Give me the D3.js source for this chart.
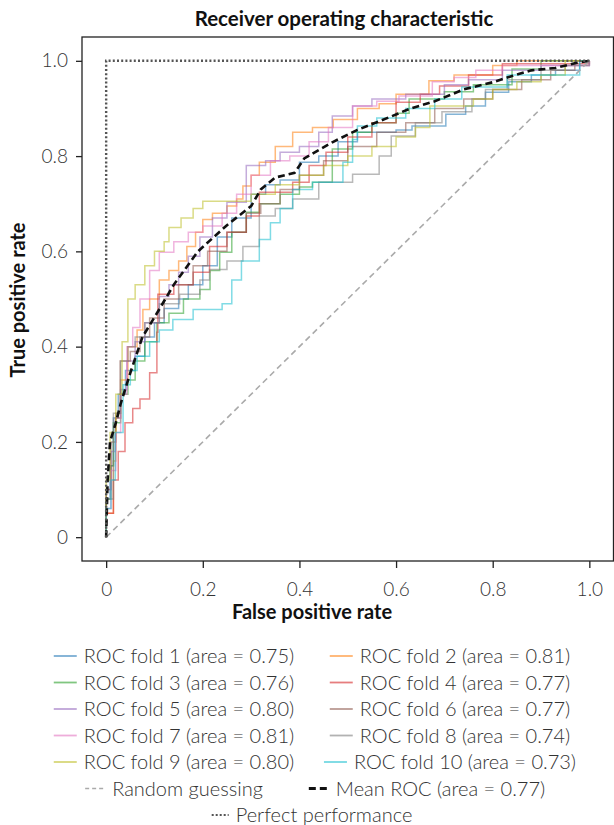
<!DOCTYPE html>
<html><head><meta charset="utf-8">
<script src="https://cdn.jsdelivr.net/npm/d3@7"></script>
<style>body{margin:0;background:#fff;} svg{display:block;}</style>
</head><body>
<svg id="c" width="614" height="825"></svg>
<script>
// ---- data ----
const foldNames = ["ROC fold 1","ROC fold 2","ROC fold 3","ROC fold 4","ROC fold 5","ROC fold 6","ROC fold 7","ROC fold 8","ROC fold 9","ROC fold 10"];
const foldAUC = [0.75,0.81,0.76,0.77,0.80,0.77,0.81,0.74,0.80,0.73];
const foldColors = ["#1f77b4","#ff7f0e","#2ca02c","#d62728","#9467bd","#8c564b","#e377c2","#7f7f7f","#bcbd22","#17becf"];

const fold1F = [0,0,0.008,0.015,0.025,0.04,0.06,0.08,0.1,0.12,0.15,0.17,0.2,0.23,0.26,0.3,0.33,0.36,0.4,0.44,0.48,0.52,0.6,0.633,0.703,0.744,0.785,0.833,0.88,0.93,0.98,1.0];
const fold1T = [0,0.08,0.15,0.25,0.3,0.35,0.38,0.42,0.45,0.48,0.5,0.53,0.57,0.63,0.67,0.72,0.74,0.75,0.787,0.8,0.83,0.85,0.855,0.863,0.888,0.905,0.934,0.956,0.97,0.98,1.0,1.0];
const fold2F = [0,0,0.015,0.02,0.03,0.045,0.064,0.076,0.09,0.11,0.13,0.15,0.167,0.185,0.2,0.22,0.25,0.27,0.283,0.3,0.317,0.35,0.386,0.427,0.47,0.52,0.565,0.6,0.668,0.72,0.8,0.85,1.0];
const fold2T = [0,0.05,0.16,0.25,0.33,0.4,0.435,0.478,0.5,0.54,0.56,0.58,0.61,0.64,0.667,0.68,0.695,0.71,0.737,0.76,0.787,0.82,0.85,0.86,0.877,0.9,0.91,0.93,0.958,0.97,0.99,1.0,1.0];
const fold3F = [0,0,0.01,0.015,0.03,0.045,0.06,0.08,0.105,0.13,0.16,0.194,0.215,0.235,0.26,0.29,0.317,0.36,0.4,0.427,0.468,0.51,0.55,0.6,0.627,0.7,0.76,0.84,0.9,1.0];
const fold3T = [0,0.08,0.15,0.24,0.3,0.33,0.37,0.41,0.45,0.47,0.5,0.52,0.56,0.598,0.64,0.682,0.7,0.72,0.735,0.745,0.815,0.85,0.87,0.89,0.92,0.935,0.95,0.983,1.0,1.0];
const fold4F = [0,0,0.015,0.025,0.039,0.055,0.07,0.09,0.105,0.107,0.14,0.18,0.214,0.25,0.29,0.317,0.386,0.42,0.455,0.5,0.55,0.6,0.65,0.69,0.75,0.82,1.0];
const fold4T = [0,0.05,0.12,0.18,0.24,0.27,0.29,0.345,0.43,0.51,0.53,0.556,0.61,0.64,0.674,0.724,0.745,0.78,0.808,0.84,0.87,0.913,0.93,0.947,0.97,0.994,1.0];
const fold5F = [0,0,0.01,0.019,0.03,0.043,0.06,0.08,0.11,0.13,0.15,0.17,0.194,0.22,0.25,0.29,0.33,0.36,0.4,0.44,0.468,0.51,0.55,0.62,0.7,0.75,0.82,0.9,1.0];
const fold5T = [0,0.1,0.18,0.25,0.31,0.37,0.41,0.45,0.505,0.53,0.556,0.59,0.63,0.67,0.703,0.78,0.79,0.808,0.82,0.85,0.884,0.905,0.92,0.93,0.95,0.96,0.98,0.99,1.0];
const fold6F = [0,0,0.01,0.02,0.029,0.05,0.07,0.09,0.12,0.15,0.18,0.21,0.25,0.29,0.32,0.36,0.4,0.45,0.5,0.56,0.62,0.68,0.74,0.8,0.86,0.92,0.97,1.0];
const fold6T = [0,0.1,0.2,0.26,0.37,0.39,0.42,0.46,0.5,0.53,0.57,0.6,0.64,0.68,0.7,0.73,0.76,0.79,0.82,0.85,0.87,0.9,0.92,0.94,0.96,0.98,1.0,1.0];
const fold7F = [0,0,0.01,0.02,0.03,0.043,0.055,0.07,0.09,0.11,0.14,0.17,0.2,0.24,0.27,0.3,0.34,0.38,0.42,0.46,0.51,0.56,0.606,0.675,0.72,0.765,0.82,1.0];
const fold7T = [0,0.06,0.14,0.22,0.3,0.4,0.44,0.5,0.56,0.598,0.62,0.64,0.653,0.68,0.72,0.76,0.79,0.8,0.83,0.86,0.905,0.915,0.926,0.956,0.965,0.98,0.99,1.0];
const fold8F = [0,0,0.015,0.03,0.045,0.06,0.08,0.11,0.152,0.194,0.214,0.25,0.283,0.317,0.35,0.386,0.44,0.51,0.565,0.59,0.64,0.695,0.757,0.785,0.83,0.9,0.95,1.0];
const fold8T = [0,0.08,0.26,0.37,0.4,0.42,0.45,0.49,0.51,0.54,0.562,0.58,0.61,0.674,0.69,0.71,0.745,0.762,0.8,0.842,0.87,0.893,0.92,0.94,0.96,0.98,0.99,1.0];
const fold9F = [0,0,0.008,0.02,0.033,0.045,0.06,0.08,0.1,0.12,0.13,0.155,0.18,0.2,0.3,0.35,0.4,0.45,0.5,0.55,0.6,0.64,0.67,0.76,0.8,0.85,0.9,0.95,1.0];
const fold9T = [0,0.12,0.22,0.3,0.41,0.5,0.53,0.57,0.6,0.62,0.65,0.67,0.69,0.705,0.72,0.74,0.76,0.78,0.8,0.82,0.84,0.86,0.905,0.92,0.94,0.956,0.97,1.0,1.0];
const fold10F = [0,0,0.01,0.019,0.035,0.05,0.064,0.09,0.11,0.138,0.18,0.24,0.26,0.28,0.317,0.34,0.36,0.386,0.427,0.49,0.51,0.52,0.56,0.62,0.68,0.736,0.83,0.98,1.0];
const fold10T = [0,0.06,0.12,0.22,0.32,0.35,0.38,0.41,0.435,0.457,0.478,0.49,0.54,0.58,0.625,0.66,0.69,0.73,0.745,0.787,0.835,0.863,0.88,0.9,0.92,0.945,0.97,1.0,1.0];

const meanF = [0,0.003,0.008,0.02,0.03,0.05,0.075,0.105,0.14,0.19,0.25,0.3,0.32,0.35,0.39,0.41,0.47,0.52,0.57,0.63,0.68,0.74,0.8,0.84,0.88,0.93,0.97,1.0];
const meanT = [0,0.12,0.2,0.24,0.28,0.345,0.42,0.47,0.53,0.6,0.655,0.695,0.73,0.755,0.765,0.795,0.83,0.855,0.875,0.9,0.915,0.94,0.955,0.968,0.98,0.985,0.995,1.0];
const meanAUC = 0.77;
const randomF = [0,1], randomT = [0,1];
const perfectF = [0,0,1], perfectT = [0,1,1];

const xTicks = [0,0.2,0.4,0.6,0.8,1.0];
const yTicks = [0,0.2,0.4,0.6,0.8,1.0];
const tickLabels = ["0","0.2","0.4","0.6","0.8","1.0"];

const folds = [[fold1F,fold1T],[fold2F,fold2T],[fold3F,fold3T],[fold4F,fold4T],[fold5F,fold5T],[fold6F,fold6T],[fold7F,fold7T],[fold8F,fold8T],[fold9F,fold9T],[fold10F,fold10T]];

// ---- layout ----
const svg = d3.select("#c");
const L = 82, R = 613.5, T = 37, B = 561;
const x = d3.scaleLinear([-0.05,1.05],[L,R]);
const y = d3.scaleLinear([-0.05,1.05],[B,T]);
const FONT = "Lato, 'Open Sans', sans-serif";

const line = d3.line().x(d=>x(d[0])).y(d=>y(d[1]));
const stepLine = d3.line().x(d=>x(d[0])).y(d=>y(d[1])).curve(d3.curveStepAfter);
const zip = (a,b)=>a.map((v,i)=>[v,b[i]]);

const plot = svg.append("g");
folds.forEach((f,i)=>{
  plot.append("path").attr("d", stepLine(zip(f[0],f[1])))
    .attr("fill","none").attr("stroke",foldColors[i]).attr("stroke-opacity",0.55).attr("stroke-width",1.5);
});
plot.append("path").attr("d", line(zip(randomF,randomT))).attr("fill","none")
  .attr("stroke","#aaa").attr("stroke-width",1.6).attr("stroke-dasharray","6,4");
plot.append("path").attr("d", line(zip(meanF,meanT))).attr("fill","none")
  .attr("stroke","#111").attr("stroke-width",2.6).attr("stroke-dasharray","7,4");
plot.append("path").attr("d", line(zip(perfectF,perfectT))).attr("fill","none")
  .attr("stroke","#555").attr("stroke-width",2.4).attr("stroke-dasharray","2,2.2");

// frame
svg.append("rect").attr("x",L).attr("y",T).attr("width",R-L).attr("height",B-T)
  .attr("fill","none").attr("stroke","#222").attr("stroke-width",1.3);

// axes
const ax = svg.append("g").attr("transform",`translate(0,${B})`)
  .call(d3.axisBottom(x).tickValues(xTicks).tickFormat((d,i)=>tickLabels[i]).tickSize(7).tickPadding(15));
const ay = svg.append("g").attr("transform",`translate(${L},0)`)
  .call(d3.axisLeft(y).tickValues(yTicks).tickFormat((d,i)=>tickLabels[i]).tickSize(6).tickPadding(8));
[ax,ay].forEach(a=>{
  a.select(".domain").remove();
  a.selectAll("line").attr("stroke","#222").attr("stroke-width",1.3);
  a.selectAll("text").attr("font-family",FONT).attr("font-weight",300).attr("font-size",19).attr("fill","#333");
});

// titles
svg.append("text").attr("x",344).attr("y",26).attr("text-anchor","middle")
  .attr("font-family",FONT).attr("font-weight",700).attr("font-size",20.5).attr("fill","#111")
  .text("Receiver operating characteristic");
svg.append("text").attr("x",312).attr("y",619).attr("text-anchor","middle")
  .attr("font-family",FONT).attr("font-weight",700).attr("font-size",20).attr("fill","#111")
  .text("False positive rate");
svg.append("text").attr("transform","translate(25,300) rotate(-90)").attr("text-anchor","middle")
  .attr("font-family",FONT).attr("font-weight",700).attr("font-size",20).attr("fill","#111")
  .text("True positive rate");

// legend
const legendItems = [];
foldNames.forEach((n,i)=>legendItems.push({label:`${n} (area = ${foldAUC[i].toFixed(2)})`, color:foldColors[i], op:0.6, w:1.8, dash:null, row:Math.floor(i/2), col:i%2, len:23}));
legendItems.push({label:"Random guessing", color:"#aaa", op:1, w:1.6, dash:"4,3", row:5, col:0, len:20});
legendItems.push({label:`Mean ROC (area = ${meanAUC.toFixed(2)})`, color:"#111", op:1, w:2.8, dash:"7,4", row:5, col:1, len:20});
legendItems.push({label:"Perfect performance", color:"#555", op:1, w:2.2, dash:"2,2", row:6, col:-1, len:17});

const rowY = r => 656 + r*26.5;
const colCenter = (it) => it.col===-1 ? 312 : (it.col===0 ? 174 : (it.row===5 ? 427 : 450));
legendItems.forEach(it=>{
  const g = svg.append("g");
  const t = g.append("text").attr("font-family",FONT).attr("font-weight",300).attr("font-size",20)
    .attr("fill","#333").attr("dy","0.35em").text(it.label);
  const tw = t.node().getComputedTextLength();
  const gap = 7;
  const total = it.len + gap + tw;
  const x0 = colCenter(it) - total/2;
  const yy = rowY(it.row);
  g.append("line").attr("x1",x0).attr("x2",x0+it.len).attr("y1",yy).attr("y2",yy)
    .attr("stroke",it.color).attr("stroke-opacity",it.op).attr("stroke-width",it.w)
    .attr("stroke-dasharray",it.dash);
  t.attr("x",x0+it.len+gap).attr("y",yy);
});
</script>
</body></html>
